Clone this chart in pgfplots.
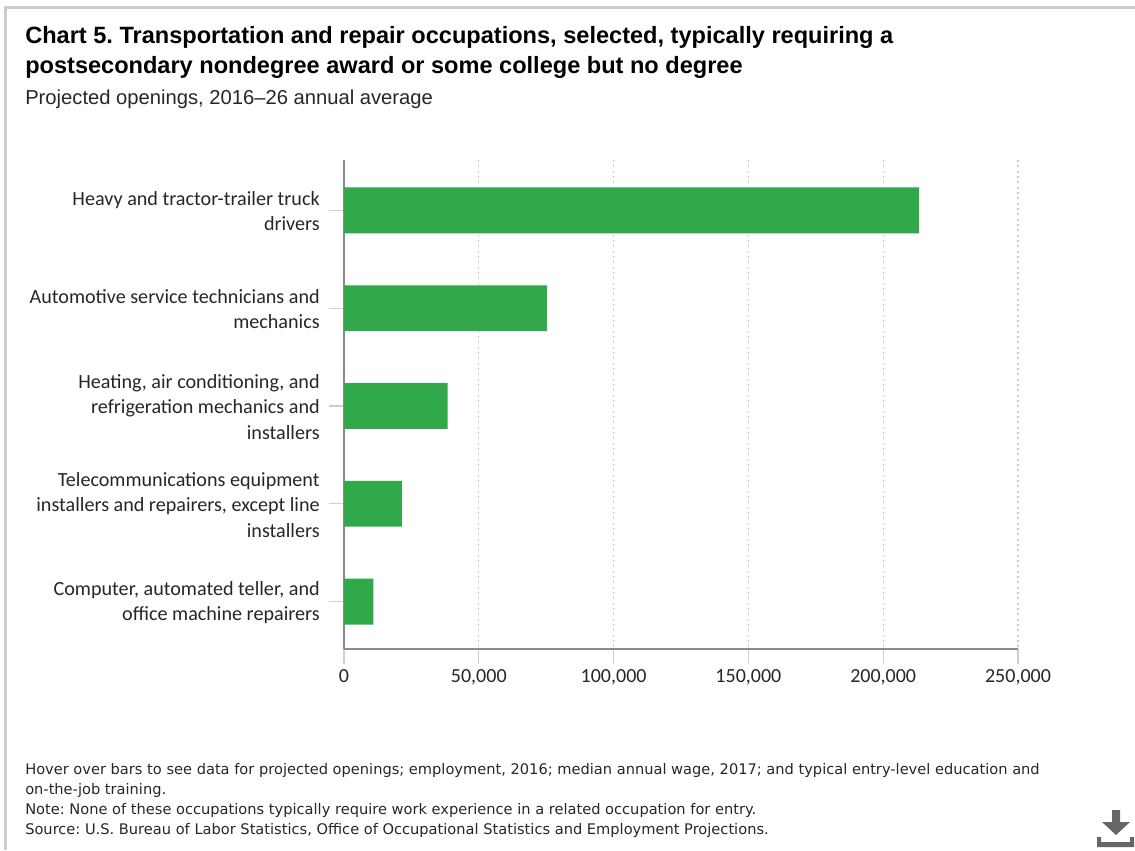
\documentclass[border=0pt]{standalone}
\usepackage{pgfplots}
\pgfplotsset{compat=1.18}
\usepackage{fontspec}
\setmainfont{Liberation Sans}
\newfontfamily\labelfont{Carlito}
\newfontfamily\notefont{DejaVu Sans}
\definecolor{barGreen}{HTML}{31A94B}
\definecolor{tickBlue}{HTML}{C4D0E8}
\definecolor{axisGray}{HTML}{8A8A8A}
\definecolor{frameGray}{HTML}{CCCCCC}
\definecolor{gridGray}{HTML}{CCCCCC}
\definecolor{iconGray}{HTML}{666666}
\pgfplotstableread{
pos value
0 213300
1 75300
2 38400
3 21500
4 10900
}\openings
\begin{document}
\frenchspacing
\begin{tikzpicture}
\begin{scope}[x=0.75pt,y=-0.75pt]
% page extent and panel frame
\path (0,0) rectangle (1135,850);
\fill[frameGray] (4,6) rectangle (1135,9);
\fill[frameGray] (4,6) rectangle (7,850);
% headings
\node[anchor=base west,inner sep=0,font=\fontsize{17.67pt}{22pt}\selectfont\bfseries] at (25,43) {Chart 5. Transportation and repair occupations, selected, typically requiring a};
\node[anchor=base west,inner sep=0,font=\fontsize{17.67pt}{22pt}\selectfont\bfseries] at (25,73) {postsecondary nondegree award or some college but no degree};
\node[anchor=base west,inner sep=0,font=\fontsize{15.15pt}{18pt}\selectfont,text=black!85] at (25,104) {Projected openings, 2016--26 annual average};
% footnotes
\begin{scope}[every node/.style={anchor=base west,inner sep=0,font=\notefont\fontsize{10.96pt}{12pt}\selectfont,text=black!85}]
\node at (25,774) {Hover over bars to see data for projected openings; employment, 2016; median annual wage, 2017; and typical entry-level education and};
\node at (25,794) {on-the-job training.};
\node at (25,814) {Note: None of these occupations typically require work experience in a related occupation for entry.};
\node at (25,834) {Source: U.S. Bureau of Labor Statistics, Office of Occupational Statistics and Employment Projections.};
\end{scope}
% download icon
\fill[iconGray] (1112,810) -- (1120,810) -- (1120,822) -- (1130,822) -- (1116,835) -- (1102,822) -- (1112,822) -- cycle;
\fill[iconGray] (1097,837) -- (1101,837) -- (1101,842) -- (1130,842) -- (1130,837) -- (1134,837) -- (1134,847) -- (1097,847) -- cycle;
\end{scope}
\begin{axis}[
  at={(258pt,-486.75pt)},anchor=south west,
  scale only axis,width=505.5pt,height=366.75pt,
  xmin=0,xmax=250000,ymin=-0.515,ymax=4.485,y dir=reverse,
  axis lines=left,axis line style={axisGray,line width=1.5pt,-},
  xtick={0,50000,100000,150000,200000,250000},
  scaled x ticks=false,
  /pgf/number format/1000 sep={,},
  /pgf/number format/fixed,
  /pgf/number format/assume math mode=true,
  xticklabel style={font=\labelfont\fontsize{15pt}{15pt}\selectfont,text=black!85},
  ytick={0,1,2,3,4},
  yticklabels={{Heavy and tractor-trailer truck\\drivers},{Automotive service technicians and\\mechanics},{Heating, air conditioning, and\\refrigeration mechanics and\\installers},{Telecommunications equipment\\installers and repairers, except line\\installers},{Computer, automated teller, and\\office machine repairers}},
  yticklabel style={font=\labelfont\fontsize{15.1pt}{19pt}\selectfont,text=black!85,align=right,xshift=-3.2pt,yshift=-0.75pt},
  tick style={tickBlue,line width=1pt},
  major tick length=11.5pt,
  tick align=outside,tick pos=left,
  xmajorgrids,
  x grid style={gridGray,line width=0.9pt,dash pattern=on 1.5pt off 2.5pt},
  clip=false,
]
\addplot[xbar,bar width=34.4pt,bar shift=0pt,fill=barGreen,draw=none] table[x=value,y=pos]{\openings};
\end{axis}
\end{tikzpicture}
\end{document}
